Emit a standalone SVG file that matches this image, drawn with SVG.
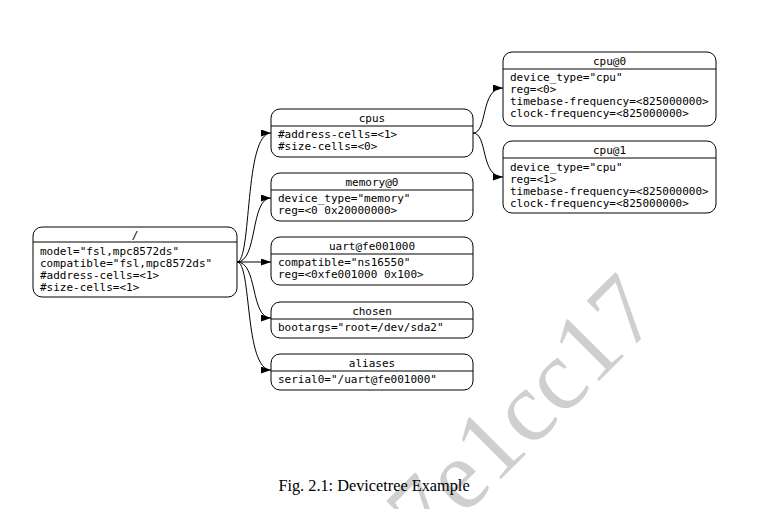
<svg xmlns="http://www.w3.org/2000/svg" width="765" height="509" viewBox="0 0 765 509">
<style>
.box{fill:#fff;stroke:#000;stroke-width:1}
.sep{stroke:#000;stroke-width:1}
.t{font-family:"DejaVu Sans Mono","Liberation Mono",monospace;font-size:11px;fill:#000}
.c{text-anchor:middle}
.e{fill:none;stroke:#000;stroke-width:1;marker-end:url(#arr)}
.wm{font-family:"Liberation Serif","Times New Roman",serif;font-size:100px;fill:#cfcfcf}
.cap{font-family:"Liberation Serif","Times New Roman",serif;font-size:16.3px;fill:#000;text-anchor:middle}
</style>
<defs>
<marker id="arr" markerUnits="userSpaceOnUse" markerWidth="10" markerHeight="7" refX="10" refY="3.5" orient="auto">
<path d="M0,0 L10,3.5 L0,7 z" fill="#000"/>
</marker>
</defs>
<rect width="765" height="509" fill="#fff"/>
<text class="wm" transform="translate(428,552) rotate(-45)">7e1cc17</text>

<g id="connectors">
<path class="e" d="M237,262 C252,262 244,133 271,133"/>
<path class="e" d="M237,262 C258,262 250,198 271,198"/>
<path class="e" d="M237,262 L271,262"/>
<path class="e" d="M237,262 C258,262 250,318 271,318"/>
<path class="e" d="M237,262 C252,262 244,370 271,370"/>
<path class="e" d="M473,133 C488,133 480,88 503,88"/>
<path class="e" d="M473,133 C488,133 480,177 503,177"/>
</g>

<g id="root">
<rect class="box" x="33" y="227" width="204" height="70" rx="9"/>
<line class="sep" x1="33" y1="242" x2="237" y2="242"/>
<text class="t c" x="135" y="238.5">/</text>
<text class="t" x="40" y="254.5">model="fsl,mpc8572ds"</text>
<text class="t" x="40" y="266.5">compatible="fsl,mpc8572ds"</text>
<text class="t" x="40" y="278.5">#address-cells=&lt;1&gt;</text>
<text class="t" x="40" y="290.5">#size-cells=&lt;1&gt;</text>
</g>

<g id="cpus">
<rect class="box" x="271" y="109" width="202" height="48" rx="9"/>
<line class="sep" x1="271" y1="126" x2="473" y2="126"/>
<text class="t c" x="372" y="121.5">cpus</text>
<text class="t" x="278" y="138">#address-cells=&lt;1&gt;</text>
<text class="t" x="278" y="150">#size-cells=&lt;0&gt;</text>
</g>

<g id="memory">
<rect class="box" x="271" y="173" width="202" height="48" rx="9"/>
<line class="sep" x1="271" y1="190" x2="473" y2="190"/>
<text class="t c" x="372" y="185.5">memory@0</text>
<text class="t" x="278" y="202">device_type="memory"</text>
<text class="t" x="278" y="214">reg=&lt;0 0x20000000&gt;</text>
</g>

<g id="uart">
<rect class="box" x="271" y="237" width="202" height="48" rx="9"/>
<line class="sep" x1="271" y1="254" x2="473" y2="254"/>
<text class="t c" x="372" y="249.5">uart@fe001000</text>
<text class="t" x="278" y="266">compatible="ns16550"</text>
<text class="t" x="278" y="278">reg=&lt;0xfe001000 0x100&gt;</text>
</g>

<g id="chosen">
<rect class="box" x="271" y="302" width="202" height="36" rx="9"/>
<line class="sep" x1="271" y1="319" x2="473" y2="319"/>
<text class="t c" x="372" y="314.5">chosen</text>
<text class="t" x="278" y="331">bootargs="root=/dev/sda2"</text>
</g>

<g id="aliases">
<rect class="box" x="271" y="354" width="202" height="36" rx="9"/>
<line class="sep" x1="271" y1="371" x2="473" y2="371"/>
<text class="t c" x="372" y="366.5">aliases</text>
<text class="t" x="278" y="383">serial0="/uart@fe001000"</text>
</g>

<g id="cpu0">
<rect class="box" x="503" y="52" width="213" height="74" rx="9"/>
<line class="sep" x1="503" y1="69" x2="716" y2="69"/>
<text class="t c" x="609.5" y="64.5">cpu@0</text>
<text class="t" x="510" y="81">device_type="cpu"</text>
<text class="t" x="510" y="93">reg=&lt;0&gt;</text>
<text class="t" x="510" y="105">timebase-frequency=&lt;825000000&gt;</text>
<text class="t" x="510" y="117">clock-frequency=&lt;825000000&gt;</text>
</g>

<g id="cpu1">
<rect class="box" x="503" y="141" width="213" height="72" rx="9"/>
<line class="sep" x1="503" y1="158" x2="716" y2="158"/>
<text class="t c" x="609.5" y="153.5">cpu@1</text>
<text class="t" x="510" y="170.5">device_type="cpu"</text>
<text class="t" x="510" y="182.5">reg=&lt;1&gt;</text>
<text class="t" x="510" y="194.5">timebase-frequency=&lt;825000000&gt;</text>
<text class="t" x="510" y="206.5">clock-frequency=&lt;825000000&gt;</text>
</g>

<text class="cap" x="374" y="491">Fig. 2.1: Devicetree Example</text>
</svg>
